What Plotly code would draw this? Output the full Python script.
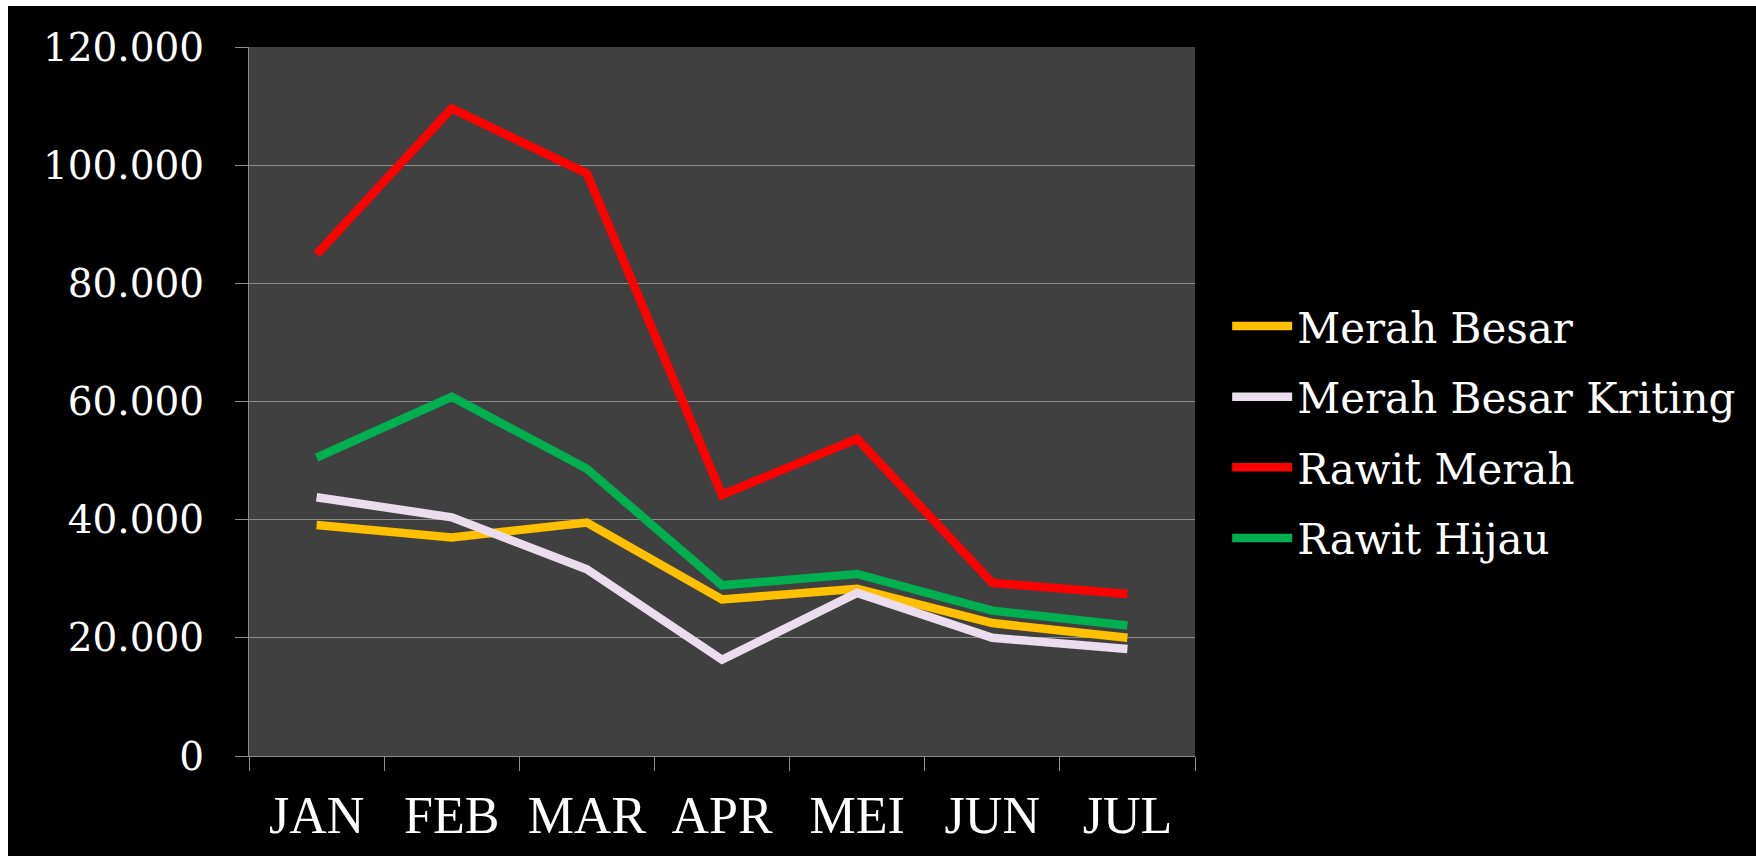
import plotly.graph_objects as go

bulan = ["JAN", "FEB", "MAR", "APR", "MEI", "JUN", "JUL"]

merah_besar = [39100, 37000, 39500, 26500, 28300, 22500, 20000]
merah_besar_kriting = [43800, 40400, 31600, 16300, 27600, 20000, 18100]
rawit_merah = [84900, 109600, 98600, 44200, 53700, 29300, 27400]
rawit_hijau = [50500, 60800, 48600, 28900, 30800, 24600, 22100]

series = [
    ("Merah Besar", merah_besar, "#FFC000"),
    ("Merah Besar Kriting", merah_besar_kriting, "#EBDDEE"),
    ("Rawit Merah", rawit_merah, "#FF0000"),
    ("Rawit Hijau", rawit_hijau, "#00B050"),
]

fig = go.Figure()
for nama, nilai, warna in series:
    fig.add_trace(go.Scatter(x=bulan, y=nilai, name=nama, mode="lines",
                             legendgroup=nama,
                             line=dict(color=warna, width=8.5)))

grid = "#8C8C8C"
fig.update_layout(
    width=1748, height=850,
    margin=dict(l=241, r=561, t=41, b=98),
    paper_bgcolor="black", plot_bgcolor="#404040",
    separators=",.",
    font=dict(family="DejaVu Serif", color="white", size=38),
    xaxis=dict(range=[-0.5, 6.5], tickson="boundaries", ticks="outside",
               ticklen=14, tickcolor=grid, showline=True, linecolor=grid,
               showgrid=False, tickfont=dict(family="Liberation Serif", size=52),
               ticklabelstandoff=14),
    yaxis=dict(range=[0, 120000], dtick=20000, tickformat=",d",
               ticks="outside", ticklen=13, tickcolor=grid,
               showline=True, linecolor=grid, gridcolor=grid, gridwidth=1,
               zeroline=False, tickfont=dict(size=39), ticklabelstandoff=23),
    legend=dict(x=1.034, y=0.654, xanchor="left", yanchor="top",
                font=dict(size=42), tracegroupgap=13, itemwidth=60,
                bgcolor="rgba(0,0,0,0)"),
)

# page margin as in the original screenshot: white strip top and left only
fig.write_html("out.html", post_script=(
    "document.body.style.margin='6px 0 0 8px';"
    "document.body.style.overflow='hidden';"))
